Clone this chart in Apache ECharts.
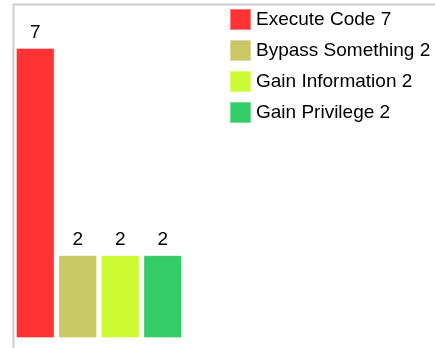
<!DOCTYPE html>
<html>
<head>
<meta charset="utf-8">
<script src="https://cdn.jsdelivr.net/npm/echarts@6/dist/echarts.min.js"></script>
<style>
  html, body { margin: 0; padding: 0; background: #fff; }
  #chart { width: 435px; height: 348px; }
</style>
</head>
<body>
<div id="chart"></div>
<script>
// categories and counts
var categories = ['Execute Code', 'Bypass Something', 'Gain Information', 'Gain Privilege'];
var counts = [7, 2, 2, 2];
var colors = ['#ff3333', '#c9c865', '#ccfa33', '#33cc66'];

var myChart = echarts.init(document.getElementById('chart'));

var series = [];
for (var i = 0; i < categories.length; i++) {
    series.push({
        name: categories[i],
        type: 'bar',
        data: [counts[i]],
        barGap: '10%',
        barCategoryGap: '0%',
        itemStyle: {
            color: colors[i],
            borderColor: 'rgba(255,255,255,0.35)',
            borderWidth: 1
        },
        label: {
            show: true,
            position: 'top',
            distance: 6,
            color: '#000',
            fontSize: 19,
            fontFamily: 'Liberation Sans, Arial, sans-serif'
        }
    });
}

option = {
    animation: false,
    grid: { left: 16, top: 48, width: 166, bottom: 10 },
    xAxis: {
        type: 'category',
        data: [''],
        show: false
    },
    yAxis: {
        type: 'value',
        min: 0,
        max: 7,
        show: false
    },
    legend: {
        orient: 'vertical',
        left: 229,
        top: 8,
        padding: 0,
        icon: 'rect',
        itemWidth: 21,
        itemHeight: 21,
        itemGap: 8,
        textStyle: {
            color: '#000',
            fontSize: 19,
            lineHeight: 21,
            fontFamily: 'Liberation Sans, Arial, sans-serif'
        },
        formatter: function (name) {
            return name + ' ' + counts[categories.indexOf(name)];
        }
    },
    graphic: [
        // frame lines of the panel
        { type: 'line', shape: { x1: 13.5, y1: 4, x2: 13.5, y2: 348 }, style: { stroke: '#cccccc', lineWidth: 2 } },
        { type: 'line', shape: { x1: 13, y1: 4.5, x2: 435, y2: 4.5 }, style: { stroke: '#cccccc', lineWidth: 2 } }
    ],
    series: series
};

myChart.setOption(option);
</script>
</body>
</html>
